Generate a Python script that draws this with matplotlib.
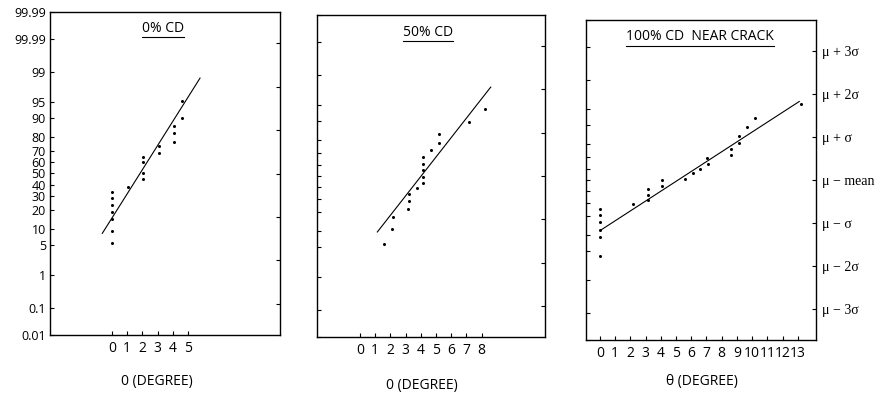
import matplotlib
matplotlib.use('Agg')
import matplotlib.pyplot as plt
from matplotlib.lines import Line2D
from statistics import NormalDist
import numpy as np

ND = NormalDist()


def to_z(pct):
    return np.array([ND.inv_cdf(v / 100.0) for v in np.atleast_1d(pct)])


# ---------------- data ----------------
prob_ticks = [99.99, 99.9, 99, 95, 90, 80, 70, 60, 50, 40, 30, 20, 10, 5, 1, 0.1, 0.01]
prob_labels = ['99.99', '99.99', '99', '95', '90', '80', '70', '60', '50', '40',
               '30', '20', '10', '5', '1', '0.1', '0.01']
sigma_ticks = [3, 2, 1, 0, -1, -2, -3]
sigma_labels = ['μ + 3σ', 'μ + 2σ', 'μ + σ', 'μ − mean', 'μ − σ', 'μ − 2σ', 'μ − 3σ']

titles = ['0% CD', '50% CD', '100% CD  NEAR CRACK']
xlabels = ['0 (DEGREE)', '0 (DEGREE)', 'θ (DEGREE)']

xticks_cd0 = [0, 1, 2, 3, 4, 5]
xticks_cd50 = [0, 1, 2, 3, 4, 5, 6, 7, 8]
xticks_cd100 = list(range(14))

cd0_deg = [0, 0, 0, 0, 0, 0, 0, 1.05, 2.05, 2.05, 2.05, 2.05, 3.1, 3.1,
           4.1, 4.1, 4.1, 4.6, 4.6]
cd0_pct = [33.8, 28.4, 23.4, 18.9, 14.6, 9.3, 5.4, 37.5, 65.1, 60.2, 50.2, 44.7,
           73.7, 68.4, 86.3, 82.3, 76.8, 95.3, 90.1]
cd0_fit_deg = [-0.64, 5.79]
cd0_fit_pct = [8.4, 98.6]

cd50_deg = [1.6, 2.1, 2.15, 3.15, 3.2, 3.2, 3.75, 4.15, 4.15, 4.15, 4.15, 4.15,
            4.7, 5.2, 5.2, 7.2, 8.2]
cd50_pct = [5.9, 11.2, 17.2, 22.2, 28.1, 34.0, 39.3, 43.5, 48.8, 55.6, 61.0, 66.8,
            72.5, 77.4, 83.4, 89.5, 93.8]
cd50_fit_deg = [1.14, 8.6]
cd50_fit_pct = [9.8, 98.0]

cd100_deg = [0, 0, 0, 0, 0, 0, 2.2, 3.15, 3.15, 3.15, 4.1, 4.1, 5.6, 6.1, 6.55,
             7.05, 7.1, 8.6, 8.6, 9.15, 9.15, 9.65, 10.2, 13.2]
cd100_pct = [25.2, 21.0, 16.6, 12.2, 9.2, 3.9, 28.8, 41.7, 36.6, 31.8, 49.7, 44.4,
             51.2, 56.2, 59.8, 69.3, 64.2, 76.5, 71.9, 84.5, 80.3, 89.2, 92.4, 96.1]
cd100_fit_deg = [0.05, 13.1]
cd100_fit_pct = [12.2, 96.6]

# ---------------- figure ----------------
W, H = 885, 395
fig = plt.figure(figsize=(W / 100, H / 100), dpi=100)
SANS = ['Open Sans', 'DejaVu Sans']
SERIF = ['Liberation Serif', 'DejaVu Serif']


def px_axes(l, r, t, b):
    return fig.add_axes([l / W, 1 - b / H, (r - l) / W, (b - t) / H])


axes = [px_axes(50, 280, 12, 335), px_axes(317, 545, 15, 337), px_axes(586, 816, 20, 340)]
xlims = [(-4.08, 11.05), (-2.83, 12.17), (-0.92, 14.2)]
xticks_all = [xticks_cd0, xticks_cd50, xticks_cd100]
data = [(cd0_deg, cd0_pct, cd0_fit_deg, cd0_fit_pct),
        (cd50_deg, cd50_pct, cd50_fit_deg, cd50_fit_pct),
        (cd100_deg, cd100_pct, cd100_fit_deg, cd100_fit_pct)]

zlim = float(to_z([99.99])[0])

for i, ax in enumerate(axes):
    deg, pct, fdeg, fpct = data[i]
    ax.plot(fdeg, to_z(fpct), color='black', lw=0.8)
    ax.plot(deg, to_z(pct), 'o', color='black', ms=2.2, mec='none')
    ax.set_xlim(*xlims[i])
    ax.set_ylim(-zlim, zlim)
    for s in ax.spines.values():
        s.set_linewidth(1.0)
        s.set_color('black')
    ax.set_xticks(xticks_all[i])
    ax.set_xticklabels([str(v) for v in xticks_all[i]], fontsize=10, family=SANS)
    ax.tick_params(axis='x', direction='in', length=3, width=0.8, pad=4)
    ax.set_yticks(to_z(prob_ticks))
    if i == 0:
        ax.set_yticklabels(prob_labels, fontsize=9, family=SANS)
    else:
        ax.set_yticklabels([])
    ax.tick_params(axis='y', direction='in', length=3, width=0.8, pad=3)
    # right-side sigma ticks
    axr = ax.twinx()
    axr.set_ylim(-zlim, zlim)
    axr.set_yticks(sigma_ticks)
    if i == 2:
        axr.set_yticklabels(sigma_labels, fontsize=10, family=SERIF)
    else:
        axr.set_yticklabels([])
    axr.tick_params(axis='y', direction='in', length=3, width=0.8, pad=4)
    for s in axr.spines.values():
        s.set_visible(False)

# titles
title_pos = [(163, 28), (428, 32), (700, 37)]
title_texts = []
for (x, y), t in zip(title_pos, titles):
    title_texts.append(fig.text(x / W, 1 - y / H, t, ha='center', va='center',
                                fontsize=10, family=SANS))

# x labels
xl_pos = [(157, 382), (422, 385), (702, 382)]
for (x, y), t in zip(xl_pos, xlabels):
    fig.text(x / W, 1 - y / H, t, ha='center', va='center', fontsize=10, family=SANS)

# underline titles
fig.canvas.draw()
r = fig.canvas.get_renderer()
for t in title_texts:
    bb = t.get_window_extent(r)
    yline = (bb.y0 - 1) / H
    fig.add_artist(Line2D([bb.x0 / W, bb.x1 / W], [yline, yline], color='black', lw=0.8))

fig.savefig('out.png', dpi=100)
